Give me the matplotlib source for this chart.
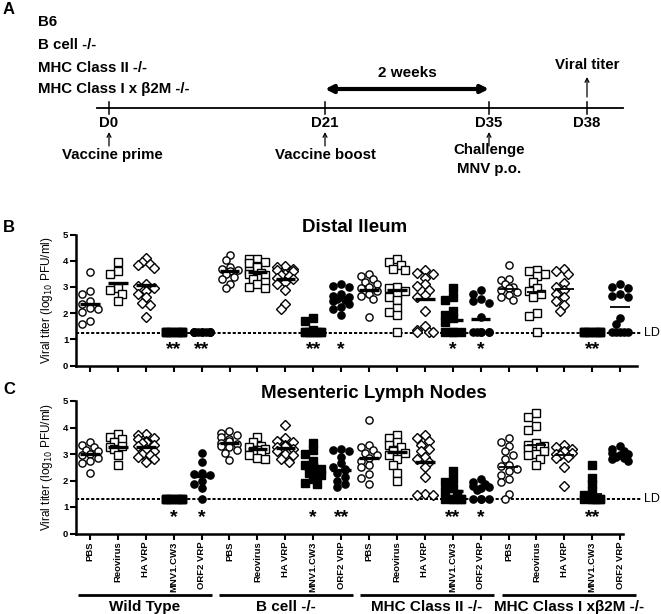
import numpy as np
import matplotlib.pyplot as plt

plt.rcParams['font.family'] = ['Liberation Sans', 'DejaVu Sans']

# groups / labels
vaccines = ['PBS', 'Reovirus', 'HA VRP', 'MNV1.CW3', 'ORF2 VRP']
strains = ['Wild Type', 'B cell -/-', 'MHC Class II -/-', 'MHC Class I x\u03b22M -/-']
timeline_days = ['D0', 'D21', 'D35', 'D38']
strain_list = ['B6', 'B cell -/-', 'MHC Class II -/-', 'MHC Class I x \u03b22M -/-']

# Distal ileum, log10 PFU/ml, one list per group (20 groups)
ileum = [
    [3.58, 2.85, 2.72, 2.45, 2.35, 2.2, 2.15, 2.05, 1.7, 1.6],
    [3.96, 3.6, 3.48, 2.95, 2.9, 2.75, 2.45],
    [4.12, 3.95, 3.88, 3.85, 3.72, 3.1, 3.05, 2.95, 2.85, 2.75, 2.6, 2.4, 2.3, 1.85],
    [1.3, 1.3, 1.3, 1.3, 1.3, 1.3, 1.3, 1.3, 1.3, 1.3],
    [1.3, 1.3, 1.3, 1.3, 1.3, 1.3, 1.3, 1.3, 1.3, 1.3],
    [4.2, 4.02, 3.75, 3.7, 3.65, 3.6, 3.5, 3.38, 3.3, 3.13, 2.95],
    [4.08, 4.05, 3.95, 3.9, 3.8, 3.75, 3.6, 3.55, 3.5, 3.45, 3.35, 3.3, 3.2, 3.1, 3.0, 2.95],
    [3.8, 3.75, 3.7, 3.65, 3.6, 3.5, 3.45, 3.4, 3.35, 3.3, 3.2, 3.1, 2.9, 2.35, 2.15],
    [1.82, 1.7, 1.36, 1.3, 1.3, 1.3, 1.3, 1.3, 1.3, 1.3, 1.3],
    [3.1, 3.05, 3.0, 2.75, 2.65, 2.6, 2.55, 2.5, 2.45, 2.35, 2.25, 2.15, 1.95],
    [3.5, 3.4, 3.3, 3.2, 3.1, 3.0, 2.95, 2.85, 2.75, 2.65, 2.55, 1.87],
    [4.05, 3.95, 3.85, 3.7, 3.65, 3.0, 2.95, 2.85, 2.75, 2.6, 2.5, 2.2, 2.05, 1.95, 1.3],
    [3.65, 3.55, 3.5, 3.35, 3.1, 3.05, 2.9, 2.7, 2.6, 2.1, 1.5, 1.35, 1.3, 1.3, 1.3],
    [2.95, 2.6, 2.5, 2.1, 1.95, 1.8, 1.65, 1.3, 1.3, 1.3, 1.3],
    [2.9, 2.75, 2.55, 2.45, 2.4, 1.85, 1.3, 1.3, 1.3, 1.3, 1.3, 1.3],
    [3.82, 3.3, 3.28, 3.1, 3.0, 2.95, 2.9, 2.8, 2.7, 2.6, 2.5],
    [3.65, 3.6, 3.5, 3.4, 3.2, 2.95, 2.85, 2.75, 2.6, 2.0, 1.9, 1.3],
    [3.7, 3.6, 3.5, 3.15, 3.0, 2.9, 2.75, 2.6, 2.45, 2.3, 2.1],
    [1.3, 1.3, 1.3, 1.3, 1.3, 1.3, 1.3, 1.3, 1.3, 1.3],
    [3.1, 3.0, 2.95, 2.75, 2.65, 2.6, 1.8, 1.6, 1.3, 1.3, 1.3, 1.3, 1.3],
]
ileum_bar = [2.37, 3.15, 3.07, 1.3, 1.3, 3.6, 3.57, 3.32, 1.36, 2.56,
             2.9, 2.88, 2.56, 1.74, 1.78, 2.92, 2.82, 2.94, 1.3, 2.22]
ileum_sig = {4: '**', 5: '**', 9: '**', 10: '*', 14: '*', 15: '*', 19: '**'}
ileum_ld = 1.25

# Mesenteric lymph nodes
mln = [
    [3.45, 3.35, 3.25, 3.15, 3.1, 3.0, 2.95, 2.85, 2.75, 2.65, 2.3],
    [3.75, 3.65, 3.55, 3.45, 3.3, 3.25, 3.2, 2.95, 2.6],
    [3.77, 3.7, 3.62, 3.55, 3.5, 3.45, 3.4, 3.35, 3.3, 3.2, 3.1, 3.0, 2.95, 2.9, 2.8, 2.7],
    [1.3, 1.3, 1.3, 1.3, 1.3, 1.3, 1.3, 1.3, 1.3, 1.3],
    [3.05, 2.7, 2.3, 2.25, 2.2, 2.0, 1.85, 1.7, 1.3],
    [3.87, 3.8, 3.72, 3.65, 3.55, 3.5, 3.42, 3.38, 3.3, 3.25, 3.15, 3.05, 2.78],
    [3.65, 3.45, 3.3, 3.25, 3.2, 3.15, 3.1, 3.05, 2.95, 2.85, 2.8],
    [4.1, 3.6, 3.5, 3.45, 3.35, 3.3, 3.25, 3.2, 3.1, 3.0, 2.95, 2.8, 2.7],
    [3.4, 3.15, 3.0, 2.75, 2.6, 2.5, 2.45, 2.4, 2.3, 2.2, 2.05, 1.9, 1.85],
    [3.2, 3.15, 3.1, 2.9, 2.65, 2.5, 2.45, 2.4, 2.3, 2.15, 2.0, 1.85, 1.75],
    [4.28, 3.35, 3.25, 3.15, 3.05, 2.95, 2.85, 2.75, 2.6, 2.5, 2.25, 2.1, 1.85],
    [3.7, 3.6, 3.45, 3.35, 3.25, 3.15, 3.1, 3.05, 2.95, 2.8, 2.6, 2.3, 2.0],
    [3.7, 3.6, 3.5, 3.35, 3.2, 3.1, 2.9, 2.8, 2.7, 2.5, 2.15, 1.5, 1.45, 1.45],
    [2.35, 2.05, 1.95, 1.7, 1.6, 1.5, 1.3, 1.3, 1.3, 1.3, 1.3],
    [2.05, 1.95, 1.85, 1.8, 1.75, 1.7, 1.65, 1.3, 1.3, 1.3, 1.3],
    [3.6, 3.45, 3.3, 3.1, 2.95, 2.8, 2.6, 2.55, 2.45, 2.35, 2.2, 2.05, 1.95, 1.5, 1.3],
    [4.55, 4.4, 4.05, 3.9, 3.4, 3.35, 3.3, 3.25, 3.2, 3.1, 3.0, 2.95, 2.8, 2.6],
    [3.35, 3.25, 3.2, 3.1, 3.05, 3.0, 2.95, 2.9, 2.85, 2.5, 1.8],
    [2.6, 2.1, 1.85, 1.6, 1.45, 1.3, 1.3, 1.3, 1.3, 1.3, 1.3],
    [3.3, 3.2, 3.1, 3.05, 3.0, 2.95, 2.9, 2.85, 2.8, 2.75],
]
mln_bar = [3.0, 3.27, 3.25, 1.3, 2.17, 3.4, 3.17, 3.24, 2.46, 2.39,
           2.84, 3.09, 2.71, 1.6, 1.75, 2.52, 3.34, 2.96, 1.5, 2.96]
mln_sig = {4: '*', 5: '*', 9: '*', 10: '**', 14: '**', 15: '*', 19: '**'}
mln_ld = 1.3

markers = ['o', 's', 'D', 's', 'o']


def swarm(vals, step=4.0, d=6.0, px_x=27.9, px_y=26.4):
    # spread equal-ish values sideways, like a column scatter
    placed = []
    offs = []
    for v in vals:
        vy = v * px_y
        ox = 0.0
        for k in [0, -1, 1, -2, 2]:
            cand = k * step
            if all(np.hypot(cand - p[0], vy - p[1]) >= d for p in placed):
                ox = cand
                break
        else:
            ox = [0, -1, 1, -2, 2][len(placed) % 5] * step
        placed.append((ox, vy))
        offs.append(ox / px_x)
    return np.array(offs)


def draw_panel(ax, data, bars, sig, ld, xright, labels):
    for i, vals in enumerate(data):
        x = i + 1
        filled = (i % 5) >= 3
        m = markers[i % 5]
        ms = 4.6 if m == 'D' else 5.2
        ax.plot(x + swarm(vals), vals, ls='none', marker=m, ms=ms,
                mfc='k' if filled else 'white', mec='k', mew=1.0,
                zorder=3, clip_on=False)
        lw = 2.4 if i < 15 else 1.3
        ax.plot([x - 0.35, x + 0.35], [bars[i], bars[i]], color='k', lw=lw,
                zorder=4, solid_capstyle='butt')
    for g, s in sig.items():
        ax.text(g, 0.6, s, ha='center', va='center', fontsize=14,
                fontweight='bold')
    ax.plot([0.5, 20.75], [ld, ld], color='k', lw=1.4, ls=(0, (1.6, 1.0)),
            clip_on=False, zorder=2)
    ax.text(20.85, ld, 'LD', ha='left', va='center', fontsize=9)
    ax.set_xlim(0.5, xright)
    ax.set_ylim(0, 5)
    ax.set_yticks(range(6))
    ax.set_yticklabels([str(v) for v in range(6)], fontweight='bold')
    ax.set_xticks(range(1, 21))
    if labels:
        ax.set_xticklabels(vaccines * 4, rotation=90, fontsize=6.8,
                           fontweight='bold')
    else:
        ax.set_xticklabels([])
    for sp in ['top', 'right']:
        ax.spines[sp].set_visible(False)
    for sp in ['left', 'bottom']:
        ax.spines[sp].set_linewidth(1.8)
    ax.tick_params(direction='out', length=4, width=1.5, labelsize=6.8, pad=1.5)
    ax.set_ylabel('Viral titer (log$_{10}$ PFU/ml)', fontsize=8.5, labelpad=6)
    ax.patch.set_alpha(0)


fig = plt.figure(figsize=(6.61, 6.14), dpi=100)

# background axes in pixel coordinates for panel A and annotations
bg = fig.add_axes([0, 0, 1, 1])
bg.set_xlim(0, 661)
bg.set_ylim(614, 0)
bg.axis('off')

bold = dict(fontweight='bold')
fs = 10.8
bg.text(3, 9, 'A', fontsize=12, va='center', **bold)
for yy, s in zip([22, 45, 68, 89], strain_list):
    bg.text(38, yy, s, fontsize=fs, va='center', **bold)

bg.plot([97, 623], [108, 108], color='k', lw=1.3)
day_x = [109, 325, 489, 587]
for x, s in zip(day_x, timeline_days):
    bg.plot([x, x], [102, 114], color='k', lw=1.1)
    bg.text(x, 123, s, fontsize=fs, ha='center', va='center', **bold)
for x in day_x[:3]:
    bg.annotate('', xy=(x, 132), xytext=(x, 146),
                arrowprops=dict(arrowstyle='->', lw=0.9, color='k',
                                shrinkA=0, shrinkB=0, mutation_scale=7))
bg.annotate('', xy=(587, 77), xytext=(587, 97),
            arrowprops=dict(arrowstyle='->', lw=0.9, color='k',
                            shrinkA=0, shrinkB=0, mutation_scale=7))
bg.text(587, 65, 'Viral titer', fontsize=fs, ha='center', va='center', **bold)
bg.annotate('', xy=(325, 89), xytext=(489, 89),
            arrowprops=dict(arrowstyle='<|-|>', lw=3.0, color='k',
                            shrinkA=0, shrinkB=0, mutation_scale=11))
bg.text(407, 73, '2 weeks', fontsize=11, ha='center', va='center', **bold)
bg.text(112, 155, 'Vaccine prime', fontsize=fs, ha='center', va='center', **bold)
bg.text(325, 155, 'Vaccine boost', fontsize=fs, ha='center', va='center', **bold)
bg.text(489, 150, 'Challenge', fontsize=fs, ha='center', va='center', **bold)
bg.text(489, 169, 'MNV p.o.', fontsize=fs, ha='center', va='center', **bold)

# panel letters and titles
bg.text(3, 227, 'B', fontsize=12, va='center', **bold)
bg.text(355, 227, 'Distal Ileum', fontsize=13.5, ha='center', va='center', **bold)
bg.text(3, 390, 'C', fontsize=12, va='center', **bold)
bg.text(374, 394, 'Mesenteric Lymph Nodes', fontsize=13.5, ha='center',
        va='center', **bold)

# strain group lines under panel C
seg = [(78, 212), (219, 353), (360, 494), (502, 636)]
for (x0, x1), s in zip(seg, strains):
    bg.plot([x0, x1], [595, 595], color='k', lw=2.0, solid_capstyle='butt')
    bg.text((x0 + x1) / 2, 607, s, fontsize=11, ha='center', va='center', **bold)

axB = fig.add_axes([76 / 661, 248.3 / 614, 561 / 661, 131.2 / 614])
draw_panel(axB, ileum, ileum_bar, ileum_sig, ileum_ld, 20.6, False)

axC = fig.add_axes([76 / 661, 80.5 / 614, 547 / 661, 132.5 / 614])
draw_panel(axC, mln, mln_bar, mln_sig, mln_ld, 20.1, True)

fig.savefig('out.png', dpi=100)
